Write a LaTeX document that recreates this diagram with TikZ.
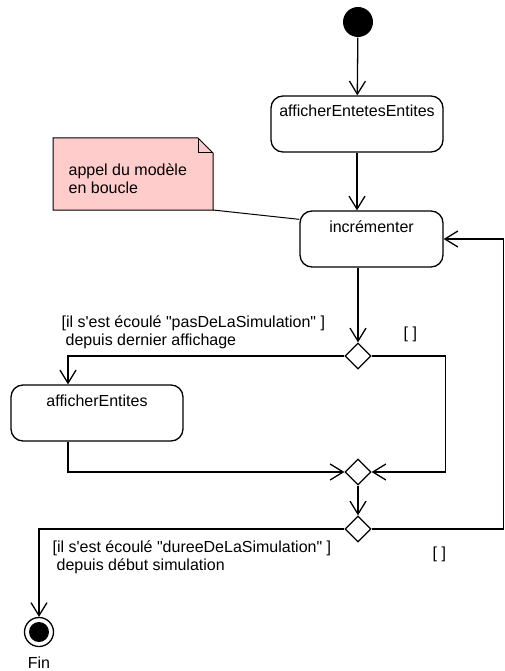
\documentclass[tikz,border=0pt]{standalone}
\usepackage{fontspec}
\setmainfont{Liberation Sans}[Ligatures={TeXOff,CommonOff}]
\usepackage{tikz}
\usetikzlibrary{shapes.geometric,arrows.meta}
\definecolor{notepink}{RGB}{255,204,204}
\tikzstyle{activity}=[
        draw, rounded corners=12pt, minimum height=56pt,
        text height=12pt, text depth=26pt, inner sep=2pt
]
\tikzstyle{decision}=[
        draw, diamond, minimum width=26pt, minimum height=26pt, inner sep=0pt
]
\tikzstyle{flow}=[
        -{Straight Barb[length=13pt,width=16pt]}
]
\tikzstyle{guard}=[
        align=left, inner sep=0pt, anchor=north west
]

\begin{document}
\begin{tikzpicture}[x=1pt,y=-1pt,line width=1.3pt,
                    font=\fontsize{16}{18}\selectfont]
                        \useasboundingbox (0,0) rectangle (505,671);

                        \node[circle, fill, minimum size=30pt, inner sep=0pt] (start) at (358,22) {};
                        \node[activity, minimum width=172pt] (entetes) at (357,124) {afficherEntetesEntites};
                        \node[activity, minimum width=143pt] (incr) at (371.5,239) {incrémenter};
                        \node[activity, minimum width=172pt] (entites) at (97,413) {afficherEntites};

                        \node[decision] (d1) at (358,356) {};
                        \node[decision] (merge) at (358,472) {};
                        \node[decision] (d2) at (358,529) {};

                        \node[circle, draw, minimum size=29pt, inner sep=0pt,
                              path picture={\fill (path picture bounding box.center) circle (10pt);}]
                              (fin) at (39,632) {};
                        \node (finlabel) at (39,663) {Fin};

                        \fill[notepink] (53,138) -- (198,138) -- (213,153) -- (213,210) -- (53,210) -- cycle;
                        \draw[line width=1pt] (53,138) -- (198,138) -- (213,153) -- (213,210) -- (53,210) -- cycle;
                        \draw[line width=1pt] (198,138) -- (198,153) -- (213,153);
                        \node[guard] (note) at (68,163) {appel du modèle\\en boucle};
                        \coordinate (notecorner) at (213,210);
                        \draw[line width=1pt] (notecorner) -- ([yshift=-9pt]incr.north west);

                        \node[guard] (g1) at (61,315) {[il s\textquotesingle est écoulé \textquotedbl pasDeLaSimulation\textquotedbl\ ]\\\hspace*{4pt}depuis dernier affichage};
                        \node[guard] (g2) at (52,540) {[il s\textquotesingle est écoulé \textquotedbl dureeDeLaSimulation\textquotedbl\ ]\\\hspace*{4pt}depuis début simulation};
                        \node[anchor=base west, inner sep=0pt] (else1) at (403,338) {[ ]};
                        \node[anchor=base west, inner sep=0pt] (else2) at (432,558) {[ ]};

                        \draw[flow] (start) -- (entetes);
                        \draw[flow] (entetes.south) -- (entetes.south |- incr.north);
                        \draw[flow] (d1.north |- incr.south) -- (d1.north);
                        \draw[flow] (d1.west) -| ([xshift=-29pt]entites.north);
                        \draw[flow] ([xshift=-29pt]entites.south) |- (merge.west);
                        \draw[flow] (d1.east) -- ++(74,0) |- (merge.east);
                        \draw[flow] (merge) -- (d2);
                        \draw[flow] (d2.west) -| (fin.north);
                        \draw[flow] (d2.east) -- ++(132,0) |- (incr.east);
                    \end{tikzpicture}
\end{document}
